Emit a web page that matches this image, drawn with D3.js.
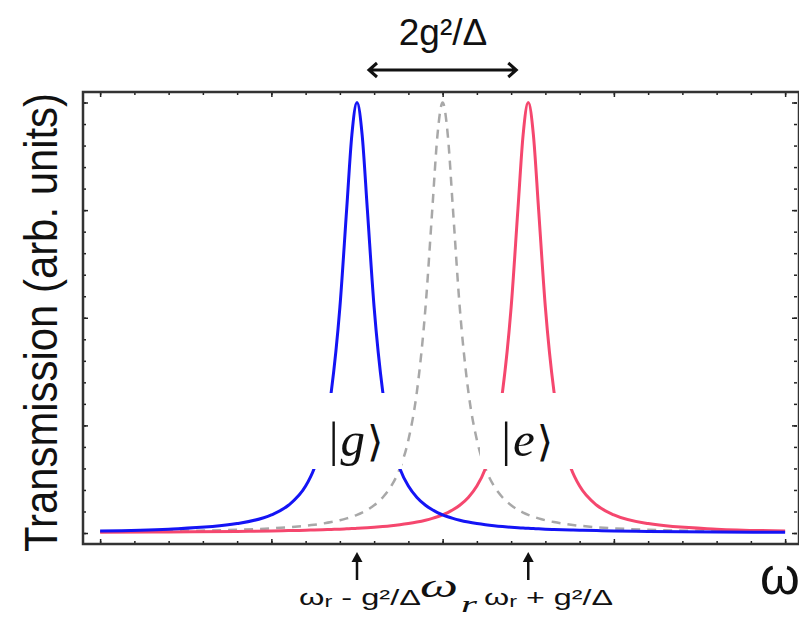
<!DOCTYPE html>
<html>
<head>
<meta charset="utf-8">
<script src="https://cdn.jsdelivr.net/npm/d3@7"></script>
<style>
  body { margin: 0; background: #fff; }
  svg { display: block; }
</style>
</head>
<body>
<div id="container"></div>
<script>
/* DATA */
// detuning axis (units of g^2/Delta ... roughly), omega_r at 0
const omega = [-2, -1.6, -1.2, -1.0, -0.9, -0.8, -0.75, -0.7, -0.65, -0.6,
  -0.56, -0.53, -0.5, -0.47, -0.44, -0.4, -0.35, -0.3, -0.25, -0.2,
  -0.15, -0.1, -0.06, -0.03, 0, 0.03, 0.06, 0.1, 0.15, 0.2,
  0.25, 0.3, 0.35, 0.4, 0.44, 0.47, 0.5, 0.53, 0.56, 0.6,
  0.65, 0.7, 0.75, 0.8, 0.9, 1.0, 1.2, 1.6, 2.0];

// qubit in |g> (blue)
const transG = [0.0049, 0.0090, 0.0220, 0.0422, 0.0645, 0.109, 0.150, 0.216, 0.329, 0.524,
  0.754, 0.925, 1, 0.925, 0.754, 0.524, 0.329, 0.216, 0.150, 0.109,
  0.0826, 0.0645, 0.0539, 0.0475, 0.0422, 0.0378, 0.0340, 0.0297, 0.0254, 0.0220,
  0.0192, 0.0169, 0.0150, 0.0134, 0.0123, 0.0116, 0.0109, 0.0103, 0.0097, 0.0090,
  0.0083, 0.0076, 0.0070, 0.0065, 0.0056, 0.0049, 0.0038, 0.0025, 0.0018];

// qubit in |e> (red)
const transE = [0.0018, 0.0025, 0.0038, 0.0049, 0.0056, 0.0065, 0.0070, 0.0076, 0.0083, 0.0090,
  0.0097, 0.0103, 0.0109, 0.0116, 0.0123, 0.0134, 0.0150, 0.0169, 0.0192, 0.0220,
  0.0254, 0.0297, 0.0340, 0.0378, 0.0422, 0.0475, 0.0539, 0.0645, 0.0826, 0.109,
  0.150, 0.216, 0.329, 0.524, 0.754, 0.925, 1, 0.925, 0.754, 0.524,
  0.329, 0.216, 0.150, 0.109, 0.0645, 0.0422, 0.0220, 0.0090, 0.0049];

// bare cavity (gray dashed)
const transBare = [0.0027, 0.0043, 0.0076, 0.0109, 0.0134, 0.0169, 0.0192, 0.0220, 0.0254, 0.0297,
  0.0340, 0.0378, 0.0422, 0.0475, 0.0539, 0.0645, 0.0826, 0.109, 0.150, 0.216,
  0.329, 0.524, 0.754, 0.925, 1, 0.925, 0.754, 0.524, 0.329, 0.216,
  0.150, 0.109, 0.0826, 0.0645, 0.0539, 0.0475, 0.0422, 0.0378, 0.0340, 0.0297,
  0.0254, 0.0220, 0.0192, 0.0169, 0.0134, 0.0109, 0.0076, 0.0043, 0.0027];

const xMajor = [-2, -1, 0, 1, 2];
const xMinor = d3.range(-20, 21, 2).map(d => d / 10);
const yMajor = [0, 0.25, 0.5, 0.75, 1];
const yMinor = d3.range(0, 21).map(d => d / 20);

const peakG = -0.5, peakE = 0.5;      // arrow positions
const splitArrow = [-0.43, 0.43];     // 2g^2/Delta arrow ends

/* CONSTANTS */
const width = 799, height = 619;
const frame = { left: 83, right: 799, top: 92, bottom: 544 };

/* SCALES */
const xScale = d3.scaleLinear()
  .domain([-2.1, 2.081])
  .range([frame.left, frame.right]);

const yScale = d3.scaleLinear()
  .domain([-0.0255, 1.0244])
  .range([frame.bottom, frame.top]);

/* SVG */
const svg = d3.select("#container")
  .append("svg")
  .attr("width", width)
  .attr("height", height);

svg.append("defs").append("clipPath").attr("id", "clip")
  .append("rect")
  .attr("x", frame.left).attr("y", frame.top)
  .attr("width", frame.right - frame.left)
  .attr("height", frame.bottom - frame.top);

// curves
const line = d3.line()
  .x(d => xScale(d[0]))
  .y(d => yScale(d[1]))
  .curve(d3.curveMonotoneX);

const plot = svg.append("g").attr("clip-path", "url(#clip)");

plot.append("path")
  .datum(omega.map((w, i) => [w, transBare[i]]))
  .attr("d", line)
  .attr("fill", "none")
  .attr("stroke", "#a8a8a8")
  .attr("stroke-width", 2.5)
  .attr("stroke-dasharray", "9,7");

plot.append("path")
  .datum(omega.map((w, i) => [w, transE[i]]))
  .attr("d", line)
  .attr("fill", "none")
  .attr("stroke", "#f5476e")
  .attr("stroke-width", 3);

plot.append("path")
  .datum(omega.map((w, i) => [w, transG[i]]))
  .attr("d", line)
  .attr("fill", "none")
  .attr("stroke", "#1414f5")
  .attr("stroke-width", 3);

// axes (ticks inward, no labels)
function addAxis(axisFn, scale, vals, size, transform) {
  svg.append("g")
    .attr("transform", transform)
    .call(axisFn(scale).tickValues(vals).tickSize(size).tickFormat("").tickSizeOuter(0))
    .call(g => g.select(".domain").remove())
    .call(g => g.selectAll("line").attr("stroke", "#222").attr("stroke-width", 1.5));
}
addAxis(d3.axisBottom, xScale, xMinor, -3, `translate(0,${frame.bottom})`);
addAxis(d3.axisBottom, xScale, xMajor, -5, `translate(0,${frame.bottom})`);
addAxis(d3.axisTop, xScale, xMinor, -3, `translate(0,${frame.top})`);
addAxis(d3.axisTop, xScale, xMajor, -5, `translate(0,${frame.top})`);
addAxis(d3.axisLeft, yScale, yMinor, -3, `translate(${frame.left},0)`);
addAxis(d3.axisLeft, yScale, yMajor, -5, `translate(${frame.left},0)`);
addAxis(d3.axisRight, yScale, yMinor, -3, `translate(${frame.right - 2},0)`);
addAxis(d3.axisRight, yScale, yMajor, -5, `translate(${frame.right - 2},0)`);

// frame
svg.append("rect")
  .attr("x", frame.left).attr("y", frame.top)
  .attr("width", frame.right - frame.left)
  .attr("height", frame.bottom - frame.top)
  .attr("fill", "none")
  .attr("stroke", "#333")
  .attr("stroke-width", 2.5);

// ket labels with white backing
const kets = [
  { x: peakG, name: "g", box: [305, 402] },
  { x: peakE, name: "e", box: [480, 576] }
];
kets.forEach(k => {
  svg.append("rect")
    .attr("x", k.box[0]).attr("y", 393)
    .attr("width", k.box[1] - k.box[0]).attr("height", 76)
    .attr("fill", "#fff");
  const t = svg.append("text")
    .attr("x", xScale(k.x) - 1)
    .attr("y", 456)
    .attr("text-anchor", "middle")
    .attr("font-family", "'Liberation Serif', 'DejaVu Serif', serif")
    .attr("font-size", 49)
    .attr("fill", "#111");
  t.append("tspan").text("|");
  t.append("tspan").attr("font-style", "italic").attr("dx", 2).text(k.name);
  t.append("tspan").attr("font-family", "'DejaVu Serif', serif").attr("font-size", 42).attr("dx", 2).text("\u27E9");
});

// y label
svg.append("text")
  .attr("transform", "translate(57,552) rotate(-90)")
  .attr("font-family", "'Liberation Sans', Arial, sans-serif")
  .attr("font-size", 46)
  .attr("textLength", 459)
  .attr("lengthAdjust", "spacingAndGlyphs")
  .attr("fill", "#111")
  .text("Transmission (arb. units)");

// top annotation 2g^2/Delta
svg.append("text")
  .attr("x", 443).attr("y", 45)
  .attr("text-anchor", "middle")
  .attr("font-family", "'Liberation Sans', Arial, sans-serif")
  .attr("font-size", 37)
  .attr("fill", "#111")
  .text("2g\u00B2/\u0394");

const ay = 70, ax0 = xScale(splitArrow[0]), ax1 = xScale(splitArrow[1]);
svg.append("path")
  .attr("d", `M${ax0},${ay}H${ax1}M${ax0 + 8},${ay - 7}L${ax0},${ay}L${ax0 + 8},${ay + 7}M${ax1 - 8},${ay - 7}L${ax1},${ay}L${ax1 - 8},${ay + 7}`)
  .attr("fill", "none")
  .attr("stroke", "#111")
  .attr("stroke-width", 3);

// bottom arrows
[peakG, peakE].forEach(p => {
  const px = xScale(p);
  svg.append("line")
    .attr("x1", px).attr("x2", px)
    .attr("y1", 560).attr("y2", 580)
    .attr("stroke", "#111").attr("stroke-width", 2.5);
  svg.append("path")
    .attr("d", `M${px},552L${px - 5.5},562L${px + 5.5},562Z`)
    .attr("fill", "#111");
});

// bottom labels
function bottomLabel(x, len, sign) {
  const t = svg.append("text")
    .attr("x", x).attr("y", 605)
    .attr("font-family", "'Liberation Sans', Arial, sans-serif")
    .attr("font-size", 22)
    .attr("textLength", len)
    .attr("lengthAdjust", "spacingAndGlyphs")
    .attr("fill", "#111");
  t.append("tspan").text("\u03C9");
  t.append("tspan").attr("font-size", 16).attr("dy", 2).text("r");
  t.append("tspan").attr("dy", -2).text(` ${sign} g\u00B2/\u0394`);
}
bottomLabel(299, 122, "-");
bottomLabel(484, 129, "+");

// omega_r in math italic
svg.append("text")
  .attr("x", 420).attr("y", 597)
  .attr("font-family", "'Liberation Serif', 'DejaVu Serif', serif")
  .attr("font-style", "italic")
  .attr("font-size", 34)
  .attr("textLength", 38)
  .attr("lengthAdjust", "spacingAndGlyphs")
  .attr("fill", "#111")
  .text("\u03C9");
svg.append("text")
  .attr("x", 461).attr("y", 612)
  .attr("font-family", "'Liberation Serif', 'DejaVu Serif', serif")
  .attr("font-style", "italic")
  .attr("font-size", 24)
  .attr("textLength", 16)
  .attr("lengthAdjust", "spacingAndGlyphs")
  .attr("fill", "#111")
  .text("r");

// axis omega
svg.append("text")
  .attr("x", 760).attr("y", 594)
  .attr("font-family", "'Liberation Sans', Arial, sans-serif")
  .attr("font-size", 51)
  .attr("fill", "#111")
  .text("\u03C9");
</script>
</body>
</html>
